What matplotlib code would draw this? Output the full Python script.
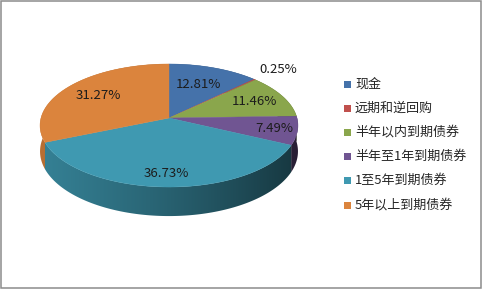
import numpy as np
import matplotlib
matplotlib.use("Agg")
import matplotlib.pyplot as plt
import matplotlib.colors as mcolors
from matplotlib.patches import Polygon, Rectangle

# Portfolio allocation (percent of total)
categories = ["现金", "远期和逆回购", "半年以内到期债券", "半年至1年到期债券",
              "1至5年到期债券", "5年以上到期债券"]
shares = [12.81, 0.25, 11.46, 7.49, 36.73, 31.27]

# Styling / layout
colors = ["#4572AA", "#C0504D", "#8AA64C", "#705592", "#3F99B1", "#DB843D"]
label_radius = [0.64, 1.30, 0.75, 0.82, 0.83, 0.69]

plt.rcParams['font.family'] = ['Noto Sans CJK SC', 'DejaVu Sans']

W, H = 482, 289
fig = plt.figure(figsize=(W / 100, H / 100), dpi=100)
ax = fig.add_axes([0, 0, 1, 1])

# Tilted disc seen in perspective
CX, CY = 169, 118
A, B, K, DEPTH = 128, 60.6, 0.122, 25.5


def project(theta, r=1.0, y=0.0):
    x = r * np.sin(theta)
    z = r * np.cos(theta)
    w = 1 + K * z
    return CX + A * x / w, CY - (B * z + DEPTH * y) / w


def shade(u):
    return 0.63 - 0.24 * u - 0.03 * u ** 2


total = sum(shares)
bounds = np.concatenate([[0], np.cumsum(shares)]) / total * 2 * np.pi

# Side wall: one gradient-filled band per slice, back to front
order = np.argsort([-np.cos((bounds[i] + bounds[i + 1]) / 2) for i in range(len(shares))])
for i in order:
    t0, t1 = bounds[i], bounds[i + 1]
    n = max(2, int(np.degrees(t1 - t0) * 2))
    ts = np.linspace(t0, t1, n)
    top = [project(t) for t in ts]
    bot = [project(t, y=-1) for t in ts[::-1]]
    verts = np.array(top + bot)
    x0, x1 = verts[:, 0].min() - 1, verts[:, 0].max() + 1
    y0, y1 = verts[:, 1].min() - 1, verts[:, 1].max() + 1
    cols = np.linspace(x0, x1, 200)
    f = shade((cols - CX) / A)
    rgb = np.array(mcolors.to_rgb(colors[i]))
    img = np.clip(f[None, :, None] * rgb[None, None, :], 0, 1)
    img = np.repeat(img, 2, axis=0)
    clip = Polygon(verts, closed=True, facecolor='none', edgecolor='none',
                   transform=ax.transData)
    ax.add_patch(clip)
    im = ax.imshow(img, extent=(x0, x1, y1, y0), aspect='auto',
                   interpolation='bilinear', zorder=1)
    im.set_clip_path(clip)

# Top faces
for i, base in enumerate(colors):
    t0, t1 = bounds[i], bounds[i + 1]
    n = max(2, int(np.degrees(t1 - t0) * 2))
    ts = np.linspace(t0, t1, n)
    pts = [(CX, CY)] + [project(t) for t in ts]
    ax.add_patch(Polygon(pts, closed=True, facecolor=base, edgecolor=base,
                         linewidth=0.3, zorder=2))

# Value labels
for i, v in enumerate(shares):
    tm = (bounds[i] + bounds[i + 1]) / 2
    lx, ly = project(tm, r=label_radius[i])
    ax.text(lx, ly, f"{v:.2f}%", ha='center', va='center', fontsize=9.5,
            color='#1c1c1c', zorder=5)

# Legend
for i, (name, c) in enumerate(zip(categories, colors)):
    y = 84 + i * 24.2
    ax.add_patch(Rectangle((344, y - 3.5), 7, 7, facecolor=c, edgecolor='none', zorder=5))
    ax.text(355, y, name, ha='left', va='center', fontsize=9.4, color='#262626', zorder=5)

# Chart frame
ax.add_patch(Rectangle((1, 1), 479.5, 286.5, facecolor='none', edgecolor='#8c8c8c',
                       linewidth=1.1, zorder=6))

ax.set_xlim(0, W)
ax.set_ylim(H, 0)
ax.axis('off')

fig.savefig('out.png', dpi=100)
